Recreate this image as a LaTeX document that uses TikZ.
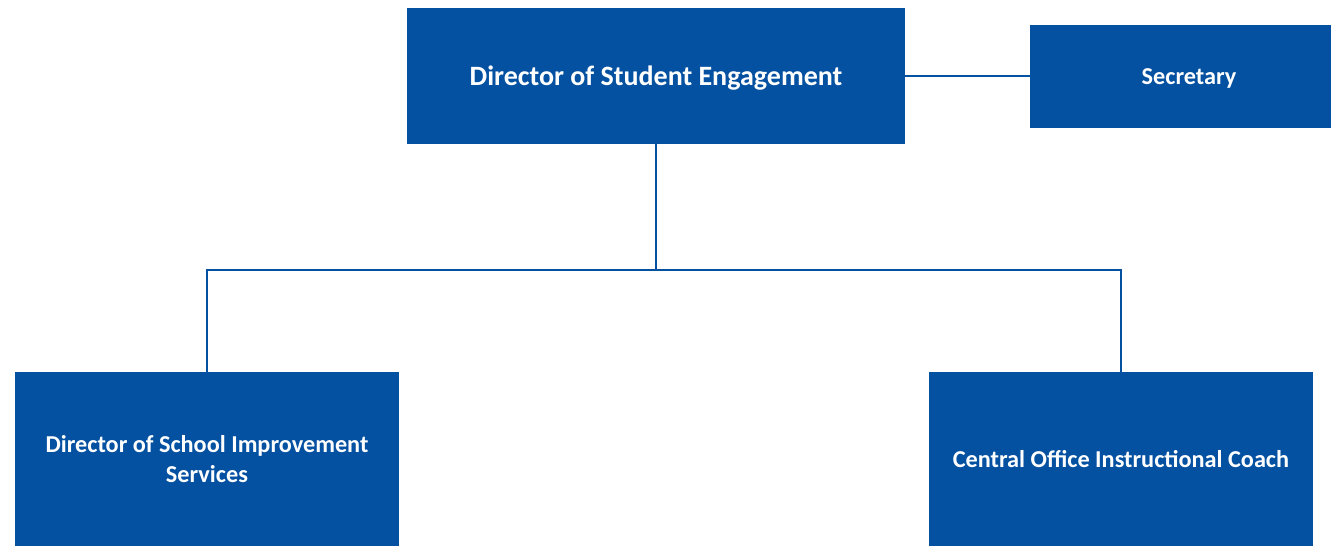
\documentclass[tikz,border=0pt]{standalone}
\usepackage{fontspec}
\setmainfont{Carlito}
\definecolor{orgblue}{RGB}{4,80,161}
\tikzset{
  orgbox/.style={draw=none, fill=orgblue, text=white, font=\bfseries\fontsize{18.2}{22}\selectfont, align=center, inner sep=0pt},
  topbox/.style={orgbox, font=\bfseries\fontsize{21}{25}\selectfont, text depth=0pt},
  orgline/.style={draw=orgblue, line width=1.5pt}
}
\begin{document}
\begin{tikzpicture}[x=0.75pt, y=-0.75pt]
\useasboundingbox (0,0) rectangle (1331,546);

% Boxes
\node[topbox, minimum width=498*0.75pt, minimum height=136*0.75pt] (dir) at (656,76) {Director of Student Engagement};
\node[orgbox, text depth=0pt, minimum width=318*0.75pt, minimum height=103*0.75pt] (sec) at (1189,76.5) {Secretary};
\node[orgbox, minimum width=384*0.75pt, minimum height=174*0.75pt] (dsis) at (207,459) {Director of School Improvement\\Services};
\node[orgbox, minimum width=384*0.75pt, minimum height=174*0.75pt] (coach) at (1121,459) {Central Office Instructional Coach};

% Connectors
\coordinate (mid) at (656,270);
\draw[orgline] (dir.east) -- (dir.east -| sec.west);
\draw[orgline] (dir.south) -- (mid);
\draw[orgline] (dsis.north) |- (mid) -| (coach.north);
\end{tikzpicture}
\end{document}
